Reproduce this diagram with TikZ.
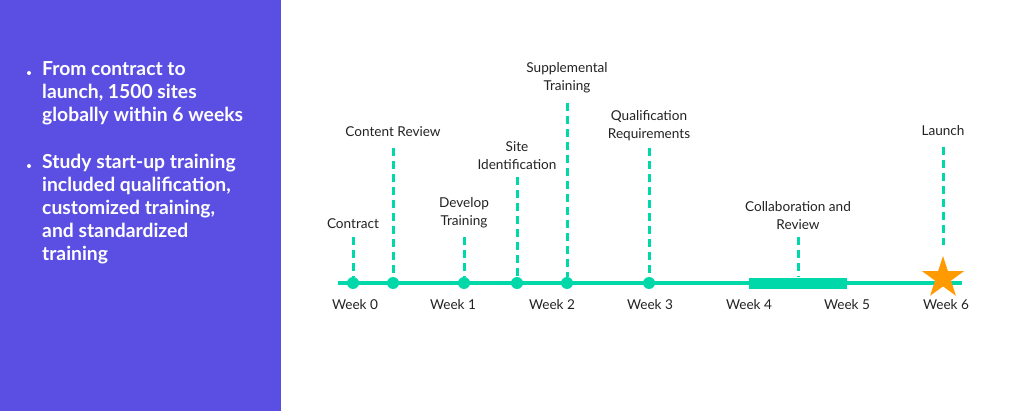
\documentclass[tikz,border=0pt]{standalone}
\usepackage{fontspec}
\setmainfont{Lato}
\usetikzlibrary{shapes.geometric}
\definecolor{panel}{HTML}{5B4FE3}
\definecolor{tealc}{HTML}{00D8AA}
\definecolor{starc}{HTML}{FF9A00}
\definecolor{txt}{HTML}{222222}
\begin{document}
\begin{tikzpicture}[x=1pt,y=-1pt,
  dot/.style={circle,fill=tealc,inner sep=0,minimum size=12pt},
  lbl/.style={font=\fontsize{13.6}{18}\selectfont,text=txt,align=center,inner sep=0},
  wk/.style={font=\fontsize{13.6}{15}\selectfont,text=txt,inner sep=0},
  dsh/.style={draw=tealc,line width=3pt,dash pattern=on 8pt off 5pt},
  side/.style={font=\fontsize{19.3}{23}\selectfont\bfseries,text=white,align=left,inner sep=0,anchor=north west},
  bul/.style={circle,fill=white,inner sep=0,minimum size=4pt}]
\useasboundingbox (0,0) rectangle (1024,411);
\fill[panel] (0,0) rectangle (281,411);
% left text
\node[bul] (b1) at (29,73) {};
\node[side] (t1) at (42,61) {From contract to\\launch, 1500 sites\\globally within 6 weeks};
\node[bul] (b2) at (29,166) {};
\node[side] (t2) at (42,154) {Study start-up training\\included qualification,\\customized training,\\and standardized\\training};
% timeline
\coordinate (L) at (338,283);
\coordinate (R) at (962,283);
\draw[tealc,line width=4pt] (L) -- (R);
\fill[tealc] (749,278) rectangle (847,289);
% dots
\node[dot] (d0) at (353,283) {};
\node[dot] (d1) at (393,283) {};
\node[dot] (d2) at (464,283) {};
\node[dot] (d3) at (517,283) {};
\node[dot] (d4) at (567,283) {};
\node[dot] (d5) at (649,283) {};
\coordinate (d6) at (798,277);
\node[star,star points=5,star point ratio=2.618,minimum size=44pt,inner sep=0,fill=starc] (st) at (943,278) {};
% dashed leaders
\coordinate (u0) at (353,237);
\coordinate (u1) at (393,148);
\coordinate (u2) at (464,237);
\coordinate (u3) at (517,177);
\coordinate (u4) at (567,103);
\coordinate (u5) at (649,148);
\coordinate (u6) at (798,237);
\coordinate (u7) at (943,147);
\coordinate (s7) at (943,245);
\draw[dsh] (u0) -- (d0.north);
\draw[dsh] (u1) -- (d1.north);
\draw[dsh] (u2) -- (d2.north);
\draw[dsh] (u3) -- (d3.north);
\draw[dsh] (u4) -- (d4.north);
\draw[dsh] (u5) -- (d5.north);
\draw[dsh] (u6) -- (d6);
\draw[dsh] (u7) -- (s7);
% labels
\node[lbl] (l0) at (353,224) {Contract};
\node[lbl] (l1) at (393,132) {Content Review};
\node[lbl] (l2) at (464,213) {Develop\\Training};
\node[lbl] (l3) at (517,156) {Site\\Identification};
\node[lbl] (l4) at (567,78) {Supplemental\\Training};
\node[lbl] (l5) at (649,126) {Qualification\\Requirements};
\node[lbl] (l6) at (798,215.5) {Collaboration and\\Review};
\node[lbl] (l7) at (943,131) {Launch};
% weeks
\node[wk] (w0) at (355,305) {Week 0};
\node[wk] (w1) at (453,305) {Week 1};
\node[wk] (w2) at (552,305) {Week 2};
\node[wk] (w3) at (650,305) {Week 3};
\node[wk] (w4) at (749,305) {Week 4};
\node[wk] (w5) at (847,305) {Week 5};
\node[wk] (w6) at (946,305) {Week 6};
\end{tikzpicture}
\end{document}
